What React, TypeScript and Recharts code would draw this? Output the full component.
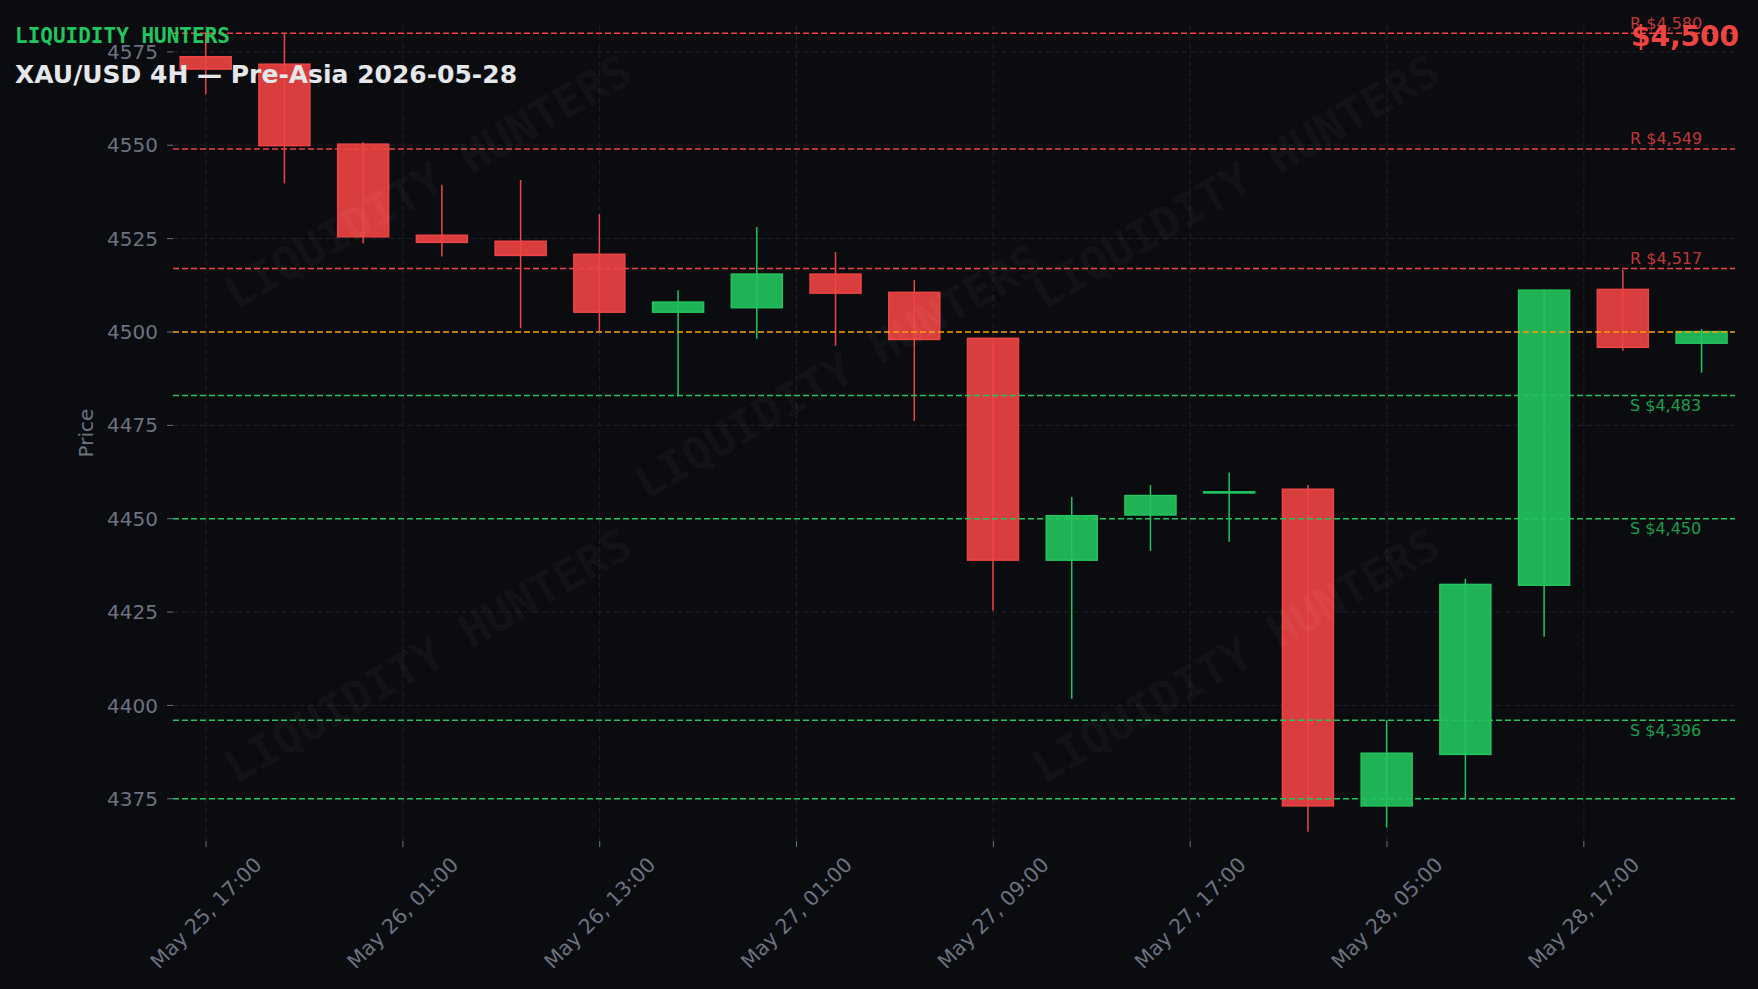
import { ComposedChart, Bar, XAxis, YAxis, CartesianGrid, ReferenceLine } from 'recharts';

// 4H candles
const opens = [4573.7, 4571.7, 4550.3, 4525.9, 4524.3, 4520.8, 4505.3, 4506.5, 4515.5, 4510.6, 4498.3, 4438.9, 4451.0, 4456.9, 4457.9, 4373.1, 4386.9, 4432.2, 4511.4, 4497.0];
const closes = [4570.4, 4549.9, 4525.5, 4524.0, 4520.5, 4505.3, 4508.0, 4515.5, 4510.4, 4498.0, 4438.9, 4450.8, 4456.2, 4457.2, 4373.1, 4387.2, 4432.4, 4511.2, 4495.9, 4500.1];
const highs = [4580.0, 4580.0, 4550.8, 4539.4, 4540.7, 4531.6, 4511.2, 4528.1, 4521.4, 4513.9, 4498.3, 4455.8, 4459.0, 4462.4, 4459.0, 4396.1, 4433.9, 4511.2, 4516.6, 4500.8];
const lows = [4563.6, 4539.8, 4523.7, 4520.2, 4501.0, 4500.1, 4482.7, 4498.2, 4496.3, 4476.2, 4425.4, 4401.8, 4441.4, 4443.8, 4366.2, 4367.3, 4374.9, 4418.4, 4495.0, 4489.1];

const xTicks = [0, 2.5, 5, 7.5, 10, 12.5, 15, 17.5];
const xTickLabels = ['May 25, 17:00', 'May 26, 01:00', 'May 26, 13:00', 'May 27, 01:00', 'May 27, 09:00', 'May 27, 17:00', 'May 28, 05:00', 'May 28, 17:00'];
const yTicks = [4375, 4400, 4425, 4450, 4475, 4500, 4525, 4550, 4575];

const resistance = [4580, 4549, 4517];
const support = [4483, 4450, 4396];
const sweepLevel = 4375;
const currentPrice = 4500;

const X_DOMAIN = [-0.42, 19.42];
const Y_DOMAIN = [4363.7, 4582.2];

const BG = '#0b0c10';
const RED = '#ef4444';
const GREEN = '#22c55e';
const ORANGE = '#f59e0b';
const MUTED = '#6b7280';
const GRID = '#1f2029';
const FONT = 'DejaVu Sans';

const data = opens.map((o, i) => ({
  i,
  open: o,
  close: closes[i],
  high: highs[i],
  low: lows[i],
}));

function Candle(props: any) {
  const { x, y, width, height, payload } = props;
  const top = Math.min(y, y + height);
  const h = Math.abs(height);
  const { open, close, high, low } = payload;
  const yOf = (v: number) => top + ((high - v) / (high - low)) * h;
  const cx = x + width / 2;
  const up = close >= open;
  const color = up ? GREEN : RED;
  const bodyTop = yOf(Math.max(open, close));
  const bodyBot = yOf(Math.min(open, close));
  const bw = 51;
  return (
    <g>
      <line x1={cx} x2={cx} y1={top} y2={top + h} stroke={color} strokeWidth={1.5} />
      <rect
        x={cx - bw / 2}
        y={bodyTop}
        width={bw}
        height={Math.max(bodyBot - bodyTop, 1)}
        fill={color}
        fillOpacity={0.9}
        stroke={color}
        strokeWidth={1.5}
      />
    </g>
  );
}

function DateTick({ x, y, payload }: any) {
  const idx = xTicks.indexOf(payload.value);
  const cy = y + 64;
  return (
    <text
      x={x}
      y={cy}
      transform={`rotate(-45 ${x} ${cy})`}
      textAnchor="middle"
      dominantBaseline="central"
      fill={MUTED}
      fontSize={20.5}
      fontFamily={FONT}
    >
      {xTickLabels[idx]}
    </text>
  );
}

const levelLabel = (text: string, color: string, above: boolean) => (props: any) => {
  const vb = props.viewBox;
  return (
    <text
      x={vb.x + vb.width - 105}
      y={above ? vb.y - 10 : vb.y + 10}
      dominantBaseline="central"
      fill={color}
      fillOpacity={0.8}
      fontSize={16}
      fontFamily={FONT}
    >
      {text}
    </text>
  );
};

const fmt = (v: number) => '$' + v.toLocaleString('en-US');

const watermarks = [
  [428, 182],
  [838, 372],
  [1236, 182],
  [428, 656],
  [1236, 656],
];

const layer: React.CSSProperties = { position: 'absolute', left: 0, top: 0 };

export default function App() {
  return (
    <div style={{ position: 'absolute', left: 0, top: 0, width: 1758, height: 989, background: BG, overflow: 'hidden' }}>
      {/* candles, grid and axes */}
      <div style={layer}>
        <ComposedChart width={1758} height={989} data={data} margin={{ top: 25, right: 23, bottom: 0, left: 0 }}>
          <CartesianGrid stroke={GRID} strokeDasharray="6 3" strokeWidth={1} syncWithTicks />
          <XAxis
            dataKey="i"
            type="number"
            domain={X_DOMAIN}
            ticks={xTicks}
            interval={0}
            allowDataOverflow
            axisLine={false}
            tickLine={{ stroke: MUTED }}
            tickSize={6}
            height={148}
            tick={<DateTick />}
          />
          <YAxis
            type="number"
            domain={Y_DOMAIN}
            ticks={yTicks}
            allowDataOverflow
            axisLine={false}
            tickLine={{ stroke: MUTED }}
            tickSize={6}
            tickMargin={9}
            width={173}
            tick={{ fill: MUTED, fontSize: 20, fontFamily: FONT }}
            label={{
              content: () => (
                <text x={86} y={433} transform="rotate(-90 86 433)" textAnchor="middle" dominantBaseline="central" fill={MUTED} fontSize={20} fontFamily={FONT}>
                  Price
                </text>
              ),
            }}
          />
          <Bar dataKey={(d: any) => [d.low, d.high]} barSize={52} shape={<Candle />} isAnimationActive={false} />
        </ComposedChart>
      </div>

      {/* level lines sit over the candles, same plot box with hidden axes */}
      <div style={layer}>
        <ComposedChart width={1758} height={989} data={data} margin={{ top: 25, right: 23, bottom: 148, left: 173 }}>
          <XAxis dataKey="i" type="number" domain={X_DOMAIN} allowDataOverflow hide />
          <YAxis type="number" domain={Y_DOMAIN} allowDataOverflow hide />
          {resistance.map((r) => (
            <ReferenceLine key={'r' + r} y={r} stroke={RED} strokeDasharray="6 3" strokeWidth={1.5} label={levelLabel('R ' + fmt(r), RED, true)} />
          ))}
          {support.map((s) => (
            <ReferenceLine key={'s' + s} y={s} stroke={GREEN} strokeDasharray="6 3" strokeWidth={1.5} label={levelLabel('S ' + fmt(s), GREEN, false)} />
          ))}
          <ReferenceLine y={sweepLevel} stroke={GREEN} strokeDasharray="6 3" strokeWidth={1.5} />
          <ReferenceLine y={currentPrice} stroke={ORANGE} strokeDasharray="6 3" strokeWidth={1.5} />
        </ComposedChart>
      </div>

      <svg width={1758} height={989} style={{ ...layer, pointerEvents: 'none' }}>
        {watermarks.map(([wx, wy], k) => (
          <text
            key={k}
            x={wx}
            y={wy}
            transform={`rotate(-30 ${wx} ${wy})`}
            textAnchor="middle"
            dominantBaseline="central"
            fill="#ffffff"
            fillOpacity={0.045}
            fontSize={45}
            fontWeight="bold"
            fontFamily="DejaVu Sans Mono"
          >
            LIQUIDITY HUNTERS
          </text>
        ))}
        <text x={15} y={43} fill={GREEN} fontSize={21} fontWeight="bold" fontFamily="DejaVu Sans Mono">
          LIQUIDITY HUNTERS
        </text>
        <text x={15} y={83} fill="#e5e7eb" fontSize={25} fontWeight="bold" fontFamily={FONT}>
          XAU/USD 4H — Pre-Asia 2026-05-28
        </text>
        <text x={1631} y={46} fill={RED} fontSize={28} fontWeight="bold" fontFamily={FONT}>
          {fmt(currentPrice)}
        </text>
      </svg>
    </div>
  );
}
